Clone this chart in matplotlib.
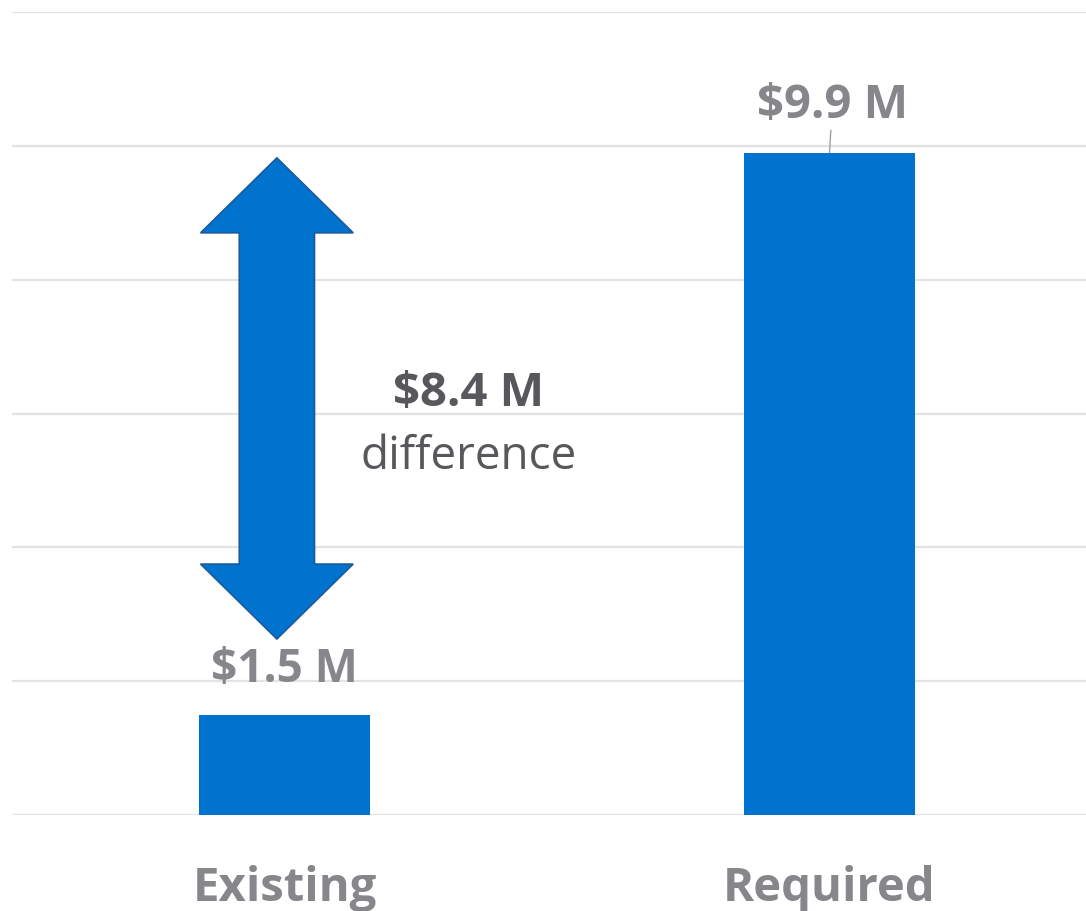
import matplotlib.pyplot as plt
from matplotlib.patches import Polygon

categories = ['Existing', 'Required']
values = [1.5, 9.9]
value_labels = ['$1.5 M', '$9.9 M']
diff_label = '$8.4 M'
diff_text = 'difference'

bar_color = '#0073CF'
grid_color = '#E3E3E3'
label_color = '#86868B'
dark_text = '#58585C'

plt.rcParams['font.family'] = ['Open Sans', 'DejaVu Sans']

fig = plt.figure(figsize=(10.86, 9.12), dpi=100)
ax = fig.add_axes([12/1086, 96/912, 1074/1086, 803/912])

x = range(len(categories))
ax.bar(x, values, width=0.314, color=bar_color, zorder=2)

ax.set_xlim(-0.5, 1.4706)
ax.set_ylim(0, 12)
ax.set_yticks(range(0, 13, 2))
ax.grid(axis='y', color=grid_color, linewidth=1.6, zorder=0)
ax.tick_params(axis='y', left=False, labelleft=False)
ax.tick_params(axis='x', bottom=False, pad=32)
ax.set_xticks(list(x))
ax.set_xticklabels(categories, fontsize=34, fontweight='bold', color=label_color)
for s in ax.spines.values():
    s.set_visible(False)

# value labels
ax.annotate(value_labels[0], (0, values[0]), xytext=(0, 16), textcoords='offset points',
            ha='center', va='bottom', fontsize=33, fontweight='bold', color=label_color)
ax.annotate(value_labels[1], (1, values[1]), xytext=(2, 18), textcoords='offset points',
            ha='center', va='bottom', fontsize=34, fontweight='bold', color=label_color,
            arrowprops=dict(arrowstyle='-', color='#A0A0A0', lw=1, shrinkA=0, shrinkB=0))

# double arrow showing the difference
cx = -0.014
top = values[1] - 0.08
bot = values[0] + 1.13
head = 1.12
hw, sw = 0.140, 0.069
pts = [(cx, top), (cx + hw, top - head), (cx + sw, top - head), (cx + sw, bot + head),
       (cx + hw, bot + head), (cx, bot), (cx - hw, bot + head), (cx - sw, bot + head),
       (cx - sw, top - head), (cx - hw, top - head)]
ax.add_patch(Polygon(pts, closed=True, facecolor=bar_color, edgecolor='#1C5A99',
                     linewidth=1.2, zorder=3))

mid = (values[0] + values[1]) / 2
ax.text(0.338, mid + 0.62, diff_label, ha='center', va='center', fontsize=34,
        fontweight='bold', color=dark_text)
ax.text(0.338, mid - 0.33, diff_text, ha='center', va='center', fontsize=33,
        color=dark_text)

plt.savefig('out.png', dpi=100)
